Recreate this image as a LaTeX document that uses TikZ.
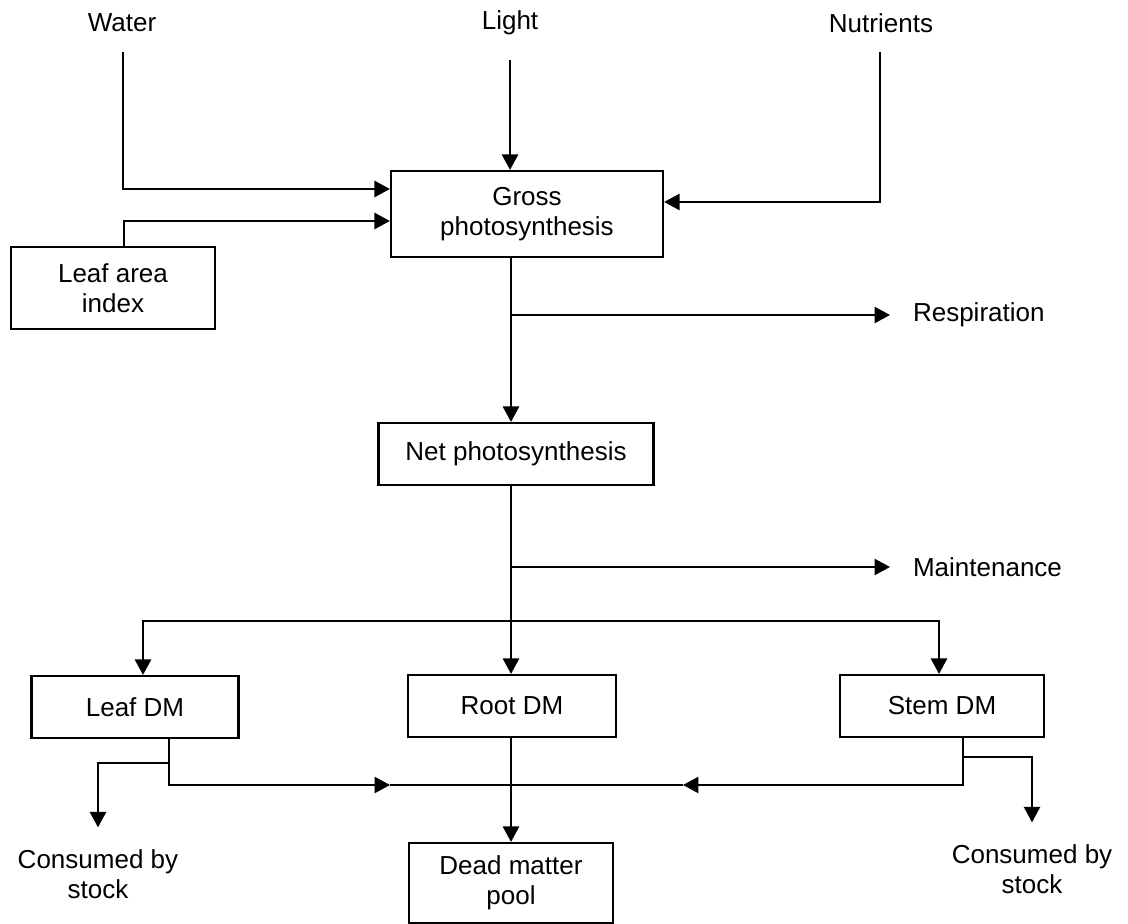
\documentclass[tikz,border=0pt]{standalone}
\usepackage{fontspec}
\setmainfont{Liberation Sans}
\usepackage{xcolor}
\usepackage{tikz}
\usetikzlibrary{arrows.meta}
\usetikzlibrary{calc}

\begin{document}
\begin{tikzpicture}[x=0.025cm, y=-0.025cm, line width=1.5pt,
		every node/.style={font=\fontsize{18.5}{21.3}\selectfont, align=center},
		box/.style={draw, rectangle, inner sep=0pt, minimum height=1.55cm},
		lbl/.style={inner sep=0pt},
		arr/.style={-{Triangle[length=11pt, width=11.5pt]}}]
			\useasboundingbox (0,0) rectangle (1128,924);
			% Nodes
			\node[lbl] (1) at (122,23) {Water};
			\node[lbl] (2) at (510,23) {Light};
			\node[lbl] (3) at (881,23) {Nutrients};
			\node[box, minimum width=6.8cm, minimum height=2.15cm] (4) at (527,214) {Gross\\photosynthesis};
			\node[box, minimum width=5.1cm, minimum height=2.05cm] (5) at (113,288) {Leaf area\\index};
			\node[box, minimum width=6.875cm] (6) at (516,454) {Net photosynthesis};
			\node[box, minimum width=5.175cm] (7) at (135,707) {Leaf DM};
			\node[box, minimum width=5.2cm] (8) at (512,706) {Root DM};
			\node[box, minimum width=5.1cm] (9) at (942,706) {Stem DM};
			\node[box, minimum width=5.1cm, minimum height=2cm] (10) at (511,883) {Dead matter\\pool};
			\node[lbl, anchor=west, inner xsep=15.6pt] (11) at (890,315) {Respiration};
			\node[lbl, anchor=west, inner xsep=15.6pt] (12) at (890,567) {Maintenance};
			\node[lbl, inner ysep=15pt] (13) at (98,874) {Consumed by\\stock};
			\node[lbl, inner ysep=15pt] (14) at (1032,869) {Consumed by\\stock};
			% Branch points
			\coordinate (c1) at (123,52);
			\coordinate (c2) at (510,60);
			\coordinate (c3) at (880,52);
			\coordinate (c4) at (511,315);
			\coordinate (c5) at (511,567);
			\coordinate (c6) at (511,621);
			\coordinate (c7) at (511,785);
			\coordinate (c8) at (390,785);
			\coordinate (c9) at (169,763);
			\coordinate (c10) at (683,785);
			\coordinate (c11) at (963,757);
			% Edges
			\draw[arr] (c1) |- ($(4.west)+(0,-25)$);
			\draw[arr] ($(5.north)+(11,0)$) |- ($(4.west)+(0,7)$);
			\draw[arr] (c2) -- (4.north -| c2);
			\draw[arr] (c3) |- ($(4.east)+(0,-12)$);
			\draw[arr] (4.south -| c4) -- (6.north -| c4);
			\draw[arr] (c4) -- (11.west);
			\draw[arr] (6.south -| c5) -- (8.north -| c5);
			\draw[arr] (c5) -- (12.west);
			\draw[arr] (c6) -| ($(7.north)+(8,0)$);
			\draw[arr] (c6) -| ($(9.north)+(-3,0)$);
			\draw[arr] (8.south -| c7) -- (10.north -| c7);
			\draw[arr] ($(7.south)+(34,0)$) |- (c8);
			\draw (c8) -- (c7);
			\draw[arr] (c9) -| (13.north);
			\draw[arr] ($(9.south)+(21,0)$) |- (c10);
			\draw (c10) -- (c7);
			\draw[arr] (c11) -| (14.north);
		\end{tikzpicture}
\end{document}
